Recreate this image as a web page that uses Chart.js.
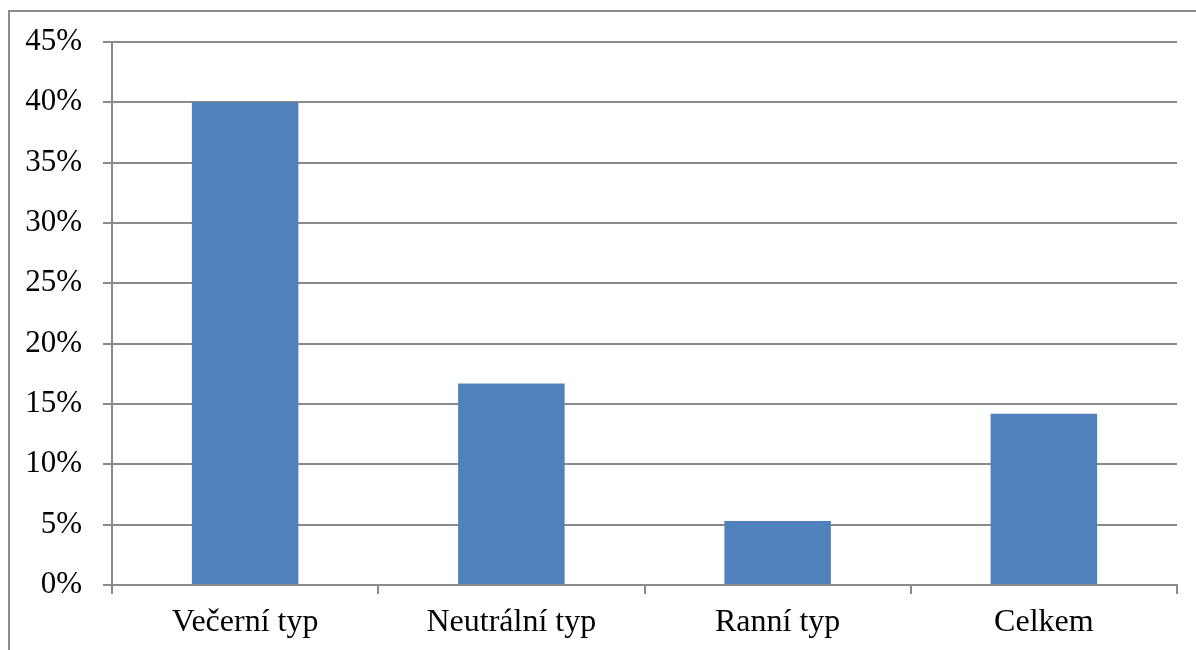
<!DOCTYPE html>
<html>
<head>
<meta charset="utf-8">
<script src="https://cdn.jsdelivr.net/npm/chart.js@4/dist/chart.umd.min.js"></script>
<style>
    html, body { margin: 0; padding: 0; background: #fff; overflow: hidden; }
    .wrap { position: relative; width: 1196px; height: 650px; }
    .frame {
        position: absolute; left: 8px; top: 10px; width: 1250px; height: 700px;
        border: 2px solid #8c8c8c; box-sizing: border-box; pointer-events: none;
    }
    canvas { position: absolute; left: 0; top: 0; }
</style>
</head>
<body>
<div class="wrap">
    <canvas id="chart" width="1196" height="650"></canvas>
    <div class="frame"></div>
</div>
<script>
const categories = ["Večerní typ", "Neutrální typ", "Ranní typ", "Celkem"];
const shares = [40, 16.7, 5.3, 14.2];
const yTicks = [0, 5, 10, 15, 20, 25, 30, 35, 40, 45];

const gridGray = "#8a8a8a";
const serif = "'Liberation Serif', 'Times New Roman', serif";

const ctx = document.getElementById("chart");

new Chart(ctx, {
    type: "bar",
    data: {
        labels: categories,
        datasets: [{
            data: shares,
            backgroundColor: "#4f81bd",
            borderWidth: 0,
            barPercentage: 0.4,
            categoryPercentage: 1
        }]
    },
    options: {
        responsive: false,
        animation: false,
        layout: {
            padding: { top: 42, right: 19, bottom: 0, left: 0 }
        },
        plugins: {
            legend: { display: false },
            tooltip: { enabled: false }
        },
        scales: {
            x: {
                grid: {
                    drawOnChartArea: false,
                    drawTicks: true,
                    tickLength: 9,
                    color: gridGray,
                    lineWidth: 2
                },
                border: { color: gridGray, width: 2 },
                ticks: {
                    color: "#000",
                    padding: 9,
                    font: { family: serif, size: 32 }
                },
                afterFit: (scale) => { scale.height = 65; }
            },
            y: {
                min: 0,
                max: 45,
                afterBuildTicks: (scale) => {
                    scale.ticks = yTicks.map(v => ({ value: v }));
                },
                grid: {
                    color: gridGray,
                    lineWidth: 2,
                    tickLength: 9
                },
                border: { color: gridGray, width: 2 },
                ticks: {
                    color: "#000",
                    padding: 21,
                    callback: (v) => v + "%",
                    font: { family: serif, size: 31 }
                },
                afterFit: (scale) => { scale.width = 112; }
            }
        }
    }
});
</script>
</body>
</html>
